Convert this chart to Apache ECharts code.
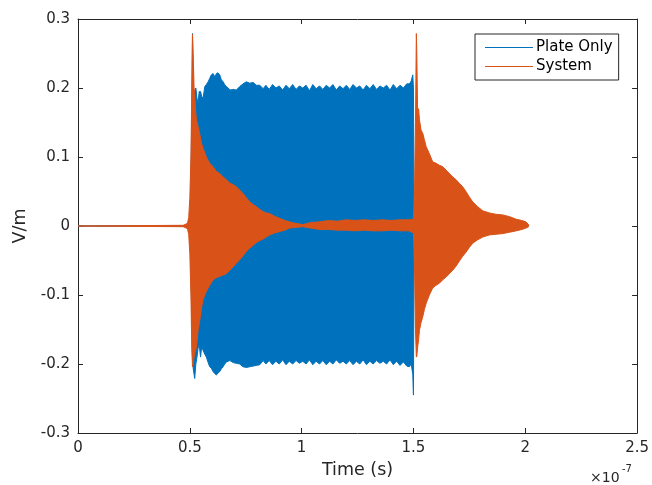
<!DOCTYPE html>
<html>
<head>
<meta charset="utf-8">
<script src="https://cdn.jsdelivr.net/npm/echarts@6/dist/echarts.min.js"></script>
<style>
html,body{margin:0;padding:0;background:#fff;}
#chart{width:652px;height:485px;}
</style>
</head>
<body>
<div id="chart"></div>
<script>
// Time axis in units of 1e-7 s
var xTicks = [0, 0.5, 1, 1.5, 2, 2.5];
var yTicks = [-0.3, -0.2, -0.1, 0, 0.1, 0.2, 0.3];

// Plate Only: envelope of the dense oscillation (V/m)
var plateTime = [0, 0.495, 0.5, 0.505, 0.509, 0.512, 0.515, 0.519, 0.522, 0.527, 0.532, 0.537, 0.542, 0.548, 0.553, 0.559, 0.567, 0.574, 0.582, 0.589, 0.596, 0.604, 0.612, 0.619, 0.626, 0.634, 0.641, 0.649, 0.656, 0.664, 0.672, 0.679, 0.694, 0.708, 0.723, 0.738, 0.753, 0.768, 0.783, 0.798, 0.813, 0.828,
  0.84, 0.855, 0.87, 0.885, 0.9, 0.915, 0.93, 0.945, 0.96, 0.975, 0.99, 1.005, 1.02, 1.035, 1.05, 1.065, 1.08, 1.095, 1.11, 1.125, 1.14, 1.155, 1.17, 1.185, 1.2, 1.215, 1.23, 1.245, 1.26, 1.275, 1.29, 1.305, 1.32, 1.335, 1.35, 1.365, 1.38, 1.395, 1.41, 1.425, 1.44, 1.455, 1.47,
  1.482, 1.49, 1.497, 1.5, 1.503];
var plateUpper = [0, 0, 0.01, 0.06, 0.17, 0.279, 0.2, 0.19, 0.196, 0.2, 0.185, 0.178, 0.195, 0.195, 0.188, 0.185, 0.202, 0.205, 0.209, 0.214, 0.219, 0.221, 0.216, 0.221, 0.222, 0.219, 0.212, 0.209, 0.205, 0.202, 0.2, 0.197, 0.198, 0.197, 0.202, 0.206, 0.209, 0.207, 0.208, 0.204, 0.204, 0.199,
  0.204, 0.198, 0.205, 0.2, 0.203, 0.197, 0.204, 0.199, 0.205, 0.198, 0.203, 0.2, 0.204, 0.196, 0.205, 0.199, 0.203, 0.198, 0.204, 0.2, 0.205, 0.197, 0.203, 0.199, 0.204, 0.198, 0.205, 0.2, 0.203, 0.197, 0.204, 0.199, 0.205, 0.198, 0.203, 0.2, 0.204, 0.197, 0.205, 0.199, 0.204, 0.2, 0.206,
  0.206, 0.21, 0.219, 0.2, 0];
var plateLower = [0, 0, -0.01, -0.05, -0.15, -0.19, -0.206, -0.215, -0.221, -0.2, -0.19, -0.177, -0.172, -0.19, -0.175, -0.18, -0.186, -0.19, -0.198, -0.204, -0.206, -0.211, -0.214, -0.216, -0.213, -0.211, -0.207, -0.204, -0.2, -0.197, -0.196, -0.195, -0.198, -0.199, -0.2, -0.204, -0.205, -0.204, -0.203, -0.202, -0.201, -0.195,
  -0.2, -0.195, -0.201, -0.196, -0.2, -0.194, -0.201, -0.196, -0.2, -0.195, -0.199, -0.196, -0.2, -0.194, -0.201, -0.196, -0.2, -0.195, -0.201, -0.196, -0.2, -0.194, -0.199, -0.196, -0.2, -0.195, -0.201, -0.196, -0.2, -0.194, -0.201, -0.196, -0.2, -0.195, -0.199, -0.196, -0.2, -0.194, -0.201, -0.196, -0.202, -0.197, -0.203,
  -0.204, -0.2, -0.215, -0.245, 0];

// System: envelope of the dense oscillation (V/m)
var systemTime = [0, 0.47, 0.485, 0.49, 0.495, 0.5, 0.505, 0.509, 0.512, 0.515, 0.519, 0.522, 0.526, 0.53, 0.537, 0.545, 0.552, 0.559, 0.567, 0.574, 0.582, 0.589, 0.604, 0.619, 0.634, 0.649, 0.664, 0.679, 0.694, 0.708, 0.723, 0.738, 0.753, 0.768, 0.783, 0.798, 0.813, 0.827, 0.842, 0.857, 0.88, 0.902, 0.925, 0.946, 0.97, 1.006, 1.04, 1.08, 1.12, 1.16, 1.2, 1.24, 1.28, 1.32, 1.36, 1.4, 1.44, 1.48, 1.5,
  1.505, 1.509, 1.513, 1.515, 1.519, 1.523, 1.527, 1.534, 1.542, 1.549, 1.557, 1.564, 1.571, 1.586, 1.601, 1.616, 1.631, 1.646, 1.661, 1.676, 1.691, 1.705, 1.72, 1.735, 1.75, 1.765, 1.787, 1.81, 1.839, 1.869, 1.9, 1.93, 1.96, 1.985, 2.003, 2.015];
var systemUpper = [0, 0.001, 0.003, 0.005, 0.012, 0.04, 0.1, 0.2, 0.278, 0.25, 0.2, 0.19, 0.165, 0.154, 0.144, 0.132, 0.12, 0.113, 0.106, 0.1, 0.095, 0.091, 0.086, 0.079, 0.076, 0.071, 0.067, 0.062, 0.06, 0.057, 0.052, 0.047, 0.041, 0.035, 0.031, 0.028, 0.024, 0.021, 0.019, 0.018, 0.014, 0.011, 0.008, 0.006, 0.004, 0.002, 0.005, 0.006, 0.008, 0.007, 0.009, 0.008, 0.009, 0.008, 0.009, 0.008, 0.009, 0.009, 0.01,
  0.05, 0.15, 0.279, 0.25, 0.158, 0.17, 0.154, 0.139, 0.134, 0.125, 0.115, 0.11, 0.105, 0.093, 0.091, 0.088, 0.086, 0.081, 0.076, 0.071, 0.067, 0.062, 0.057, 0.05, 0.042, 0.035, 0.028, 0.022, 0.019, 0.017, 0.016, 0.0135, 0.0097, 0.008, 0.006, 0.002];
var systemLower = [0, -0.001, -0.003, -0.005, -0.012, -0.04, -0.1, -0.18, -0.204, -0.2, -0.19, -0.185, -0.18, -0.175, -0.151, -0.136, -0.119, -0.107, -0.1, -0.095, -0.09, -0.086, -0.078, -0.075, -0.073, -0.071, -0.069, -0.064, -0.059, -0.054, -0.049, -0.043, -0.037, -0.032, -0.028, -0.024, -0.021, -0.019, -0.016, -0.013, -0.01, -0.008, -0.006, -0.003, -0.002, -0.001, -0.003, -0.005, -0.005, -0.006, -0.006, -0.007, -0.006, -0.007, -0.007, -0.006, -0.007, -0.007, -0.01,
  -0.06, -0.15, -0.19, -0.189, -0.175, -0.165, -0.151, -0.14, -0.131, -0.121, -0.112, -0.106, -0.1, -0.09, -0.086, -0.083, -0.078, -0.074, -0.069, -0.064, -0.058, -0.051, -0.044, -0.038, -0.031, -0.025, -0.02, -0.016, -0.013, -0.012, -0.011, -0.009, -0.007, -0.005, -0.003, -0.001];

var seriesNames = ['Plate Only', 'System'];
var seriesColors = ['#0072BD', '#D95319'];

var FONT = 'DejaVu Sans';
var AX = '#262626';

function bandSeries(name, color, times, upper, lower) {
  var data = times.map(function (t, i) { return [t, upper[i], lower[i]]; });
  return {
    name: name,
    type: 'custom',
    xAxisIndex: 0,
    yAxisIndex: 0,
    itemStyle: { color: color },
    encode: { x: 0, y: [1, 2] },
    data: data,
    silent: true,
    renderItem: function (params, api) {
      if (params.dataIndex !== 0) return null;
      var pts = [];
      for (var i = 0; i < times.length; i++) pts.push(api.coord([times[i], upper[i]]));
      for (var j = times.length - 1; j >= 0; j--) pts.push(api.coord([times[j], lower[j]]));
      return {
        type: 'polygon',
        shape: { points: pts },
        style: { fill: color, stroke: color, lineWidth: 1, lineJoin: 'miter' }
      };
    }
  };
}

var chart = echarts.init(document.getElementById('chart'), null, { renderer: 'canvas' });

var xCommon = {
  type: 'value', min: xTicks[0], max: xTicks[xTicks.length - 1], interval: 0.5,
  splitLine: { show: false },
  axisLine: { show: true, onZero: false, lineStyle: { color: AX, width: 1 } },
  axisTick: { show: true, inside: true, length: 5, lineStyle: { color: AX } }
};
var yCommon = {
  type: 'value', min: yTicks[0], max: yTicks[yTicks.length - 1], interval: 0.1,
  splitLine: { show: false },
  axisLine: { show: true, onZero: false, lineStyle: { color: AX, width: 1 } },
  axisTick: { show: true, inside: true, length: 5, lineStyle: { color: AX } }
};

var option = {
  backgroundColor: '#ffffff',
  animation: false,
  grid: { left: 78, right: 14, top: 19, bottom: 52, containLabel: false },
  textStyle: { fontFamily: FONT },
  xAxis: [
    Object.assign({}, xCommon, {
      position: 'bottom',
      name: 'Time (s)', nameLocation: 'middle', nameGap: 28,
      nameTextStyle: { color: AX, fontSize: 17.5, fontFamily: FONT },
      axisLabel: { color: AX, fontSize: 15, fontFamily: FONT, margin: 8,
        formatter: function (v) { return String(+v.toFixed(2)); } }
    }),
    Object.assign({}, xCommon, { position: 'top', axisLabel: { show: false } })
  ],
  yAxis: [
    Object.assign({}, yCommon, {
      position: 'left',
      name: 'V/m', nameLocation: 'middle', nameGap: 48,
      nameTextStyle: { color: AX, fontSize: 17.5, fontFamily: FONT },
      axisLabel: { color: AX, fontSize: 15, fontFamily: FONT, margin: 8,
        formatter: function (v) { return String(+v.toFixed(2)); } }
    }),
    Object.assign({}, yCommon, { position: 'right', axisLabel: { show: false } })
  ],
  legend: {
    orient: 'vertical',
    left: 475, top: 34,
    padding: [6, 6, 6, 10],
    itemGap: 4,
    itemWidth: 48, itemHeight: 1.2,
    backgroundColor: '#ffffff',
    borderColor: AX, borderWidth: 1, borderRadius: 0,
    textStyle: { color: '#000', fontSize: 15, fontFamily: FONT, lineHeight: 15, padding: [0, 0, 0, -2] },
    data: seriesNames.map(function (n) { return { name: n, icon: 'rect' }; })
  },
  graphic: [
    { type: 'text', left: 590, top: 471, style: { text: '\u00d710', fill: AX, font: '14px "DejaVu Sans"' } },
    { type: 'text', left: 622, top: 464, style: { text: '-7', fill: AX, font: '10px "DejaVu Sans"' } }
  ],
  series: [
    bandSeries(seriesNames[0], seriesColors[0], plateTime, plateUpper, plateLower),
    bandSeries(seriesNames[1], seriesColors[1], systemTime, systemUpper, systemLower)
  ]
};
chart.setOption(option);
</script>
</body>
</html>
